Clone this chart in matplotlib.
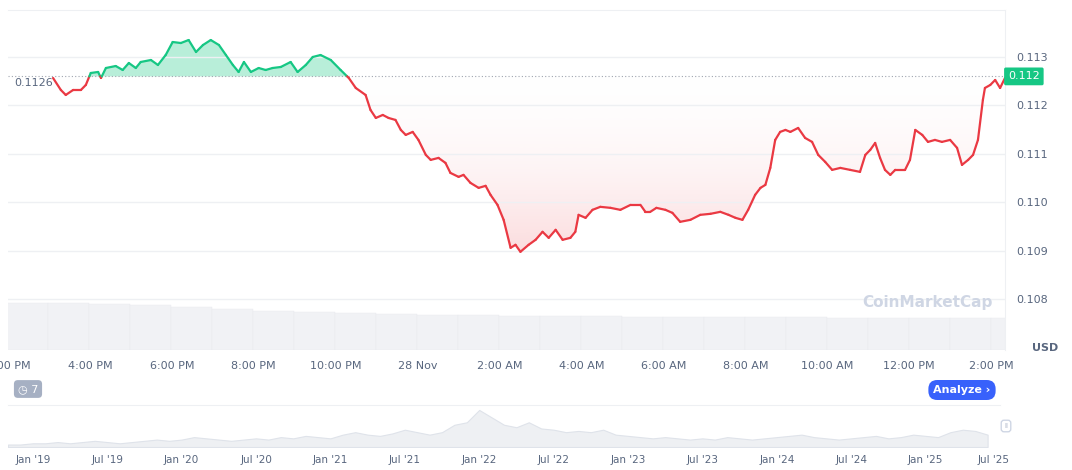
import matplotlib
matplotlib.use("Agg")
import matplotlib.pyplot as plt
import numpy as np
from matplotlib.patches import Polygon

hours = [1.10,1.29,1.41,1.59,1.78,1.90,2.02,2.20,2.27,2.39,2.63,2.80,2.95,3.12,3.24,3.49,3.66,3.85,4.02,4.22,4.41,4.59,4.76,4.95,5.15,5.32,5.49,5.63,5.76,5.93,6.12,6.29,6.46,6.66,6.90,7.07,7.27,7.44,7.63,7.88,8.12,8.32,8.49,8.73,8.85,8.98,9.15,9.29,9.46,9.59,9.71,9.88,10.02,10.20,10.32,10.51,10.68,10.80,11.00,11.12,11.29,11.49,11.66,11.78,11.95,12.10,12.27,12.39,12.51,12.71,12.88,13.05,13.20,13.37,13.54,13.73,13.85,13.93,14.10,14.27,14.46,14.71,14.95,15.20,15.44,15.56,15.68,15.83,16.05,16.22,16.41,16.66,16.90,17.15,17.39,17.59,17.76,17.93,18.07,18.24,18.37,18.49,18.61,18.73,18.85,18.98,19.10,19.29,19.46,19.63,19.78,19.95,20.12,20.32,20.56,20.80,20.93,21.05,21.17,21.29,21.41,21.54,21.66,21.90,22.02,22.15,22.32,22.46,22.63,22.80,23.00,23.17,23.29,23.44,23.56,23.68,23.80,23.85,23.98,24.10,24.22,24.34]
prices = [0.112567,0.112320,0.112217,0.112320,0.112320,0.112423,0.112670,0.112691,0.112567,0.112773,0.112814,0.112732,0.112876,0.112773,0.112897,0.112938,0.112835,0.113041,0.113309,0.113288,0.113350,0.113103,0.113247,0.113350,0.113247,0.113041,0.112835,0.112691,0.112897,0.112691,0.112773,0.112732,0.112773,0.112794,0.112897,0.112691,0.112835,0.113000,0.113041,0.112938,0.112732,0.112567,0.112361,0.112217,0.111908,0.111743,0.111805,0.111743,0.111702,0.111496,0.111393,0.111455,0.111290,0.110981,0.110878,0.110919,0.110816,0.110610,0.110528,0.110569,0.110404,0.110301,0.110343,0.110157,0.109951,0.109642,0.109065,0.109127,0.108983,0.109127,0.109230,0.109395,0.109271,0.109436,0.109230,0.109271,0.109395,0.109745,0.109683,0.109848,0.109910,0.109889,0.109848,0.109951,0.109951,0.109807,0.109807,0.109889,0.109848,0.109786,0.109601,0.109642,0.109745,0.109766,0.109807,0.109745,0.109683,0.109642,0.109848,0.110157,0.110301,0.110363,0.110713,0.111290,0.111455,0.111496,0.111455,0.111537,0.111331,0.111249,0.110981,0.110837,0.110672,0.110713,0.110672,0.110631,0.110981,0.111084,0.111228,0.110919,0.110672,0.110569,0.110672,0.110672,0.110878,0.111496,0.111393,0.111249,0.111290,0.111249,0.111290,0.111125,0.110775,0.110878,0.110981,0.111290,0.112114,0.112361,0.112423,0.112526,0.112361,0.112567]
baseline = 0.1126
vol_hours = [0.0,1,2,3,4,5,6,7,8,9,10,11,12,13,14,15,16,17,18,19,20,21,22,23,24]
vol_vals = [47,47,46,45,43,41,39,38,37,36,35,35,34,34,34,33,33,33,33,33,32,32,32,32,32]
yticks = [0.108,0.109,0.110,0.111,0.112,0.113]
xtick_pos = [0,2,4,6,8,10,12,14,16,18,20,22,24]
xtick_lbl = ["2:00 PM","4:00 PM","6:00 PM","8:00 PM","10:00 PM","28 Nov","2:00 AM","4:00 AM","6:00 AM","8:00 AM","10:00 AM","12:00 PM","2:00 PM"]
nav_x = list(range(80))
nav_v = [2,2,3,3,4,3,4,5,4,3,4,5,6,5,6,8,7,6,5,6,7,6,8,7,9,8,7,10,12,10,9,11,14,12,10,12,18,20,30,24,18,16,20,15,14,12,13,12,14,10,9,8,7,8,7,6,7,6,8,7,6,7,8,9,10,8,7,6,7,8,9,7,8,10,9,8,12,14,13,10]
nav_lbl = ["Jan '19","Jul '19","Jan '20","Jul '20","Jan '21","Jul '21","Jan '22","Jul '22","Jan '23","Jul '23","Jan '24","Jul '24","Jan '25","Jul '25"]
nav_lbl_pos = [2,8,14,20,26,32,38,44,50,56,62,68,74,79.5]

W, H = 1072, 470
fig = plt.figure(figsize=(W/100, H/100), dpi=100)
def rect(x0, y0, x1, y1):
    return [x0/W, 1-y1/H, (x1-x0)/W, (y1-y0)/H]

ymin, ymax = 0.106958, 0.113969
xmin, xmax = 0.024, 24.34

axv = fig.add_axes(rect(8, 10, 1005, 350))
axv.bar(vol_hours, vol_vals, width=1.0, color="#f1f2f5", align="edge", ec="#e8eaee", lw=0.3)
axv.set_xlim(xmin, xmax); axv.set_ylim(0, 340); axv.axis("off")

ax = fig.add_axes(rect(8, 10, 1005, 350))
ax.patch.set_alpha(0)
h = np.array(hours); p = np.array(prices)
ax.fill_between(h, p, baseline, where=p >= baseline, interpolate=True, color="#16c784", alpha=0.3, lw=0)
grad = np.linspace(0.42, 0.03, 256).reshape(-1, 1)
cmap = matplotlib.colors.LinearSegmentedColormap.from_list("r", [(1,1,1,0),(0.92,0.22,0.26,1)])
im = ax.imshow(grad, extent=[xmin, xmax, min(prices), baseline], origin="lower", aspect="auto", cmap=cmap, vmin=0, vmax=1, zorder=1)
pc = np.minimum(p, baseline)
poly = Polygon(np.column_stack([np.r_[h, h[::-1]], np.r_[pc, np.full_like(pc, baseline)]]), closed=True, transform=ax.transData, fc="none", ec="none")
ax.add_patch(poly); im.set_clip_path(poly)
for i in range(len(h)-1):
    x0, x1, y0, y1 = h[i], h[i+1], p[i], p[i+1]
    if (y0 - baseline) * (y1 - baseline) < 0:
        xm = x0 + (baseline - y0) / (y1 - y0) * (x1 - x0)
        ax.plot([x0, xm], [y0, baseline], color="#16c784" if y0 > baseline else "#ea3943", lw=1.6, zorder=3, solid_capstyle="round")
        ax.plot([xm, x1], [baseline, y1], color="#16c784" if y1 > baseline else "#ea3943", lw=1.6, zorder=3, solid_capstyle="round")
    else:
        c = "#16c784" if (y0 + y1) / 2 >= baseline else "#ea3943"
        ax.plot([x0, x1], [y0, y1], color=c, lw=1.6, zorder=3, solid_capstyle="round")
ax.axhline(baseline, color="#a0a6b0", lw=0.8, ls=(0, (1, 2)), zorder=2)
ax.set_xlim(xmin, xmax); ax.set_ylim(ymin, ymax)
ax.set_yticks(yticks)
ax.grid(axis="y", color="#eef0f3", lw=1)
ax.yaxis.tick_right()
ax.set_yticklabels([f"{t:.3f}" for t in yticks], fontsize=8, color="#58667e")
ax.set_xticks(xtick_pos)
ax.set_xticklabels(xtick_lbl, fontsize=8, color="#58667e")
ax.tick_params(length=0, pad=8)
for s in ["left", "bottom"]:
    ax.spines[s].set_visible(False)
ax.spines["top"].set_color("#eef0f3"); ax.spines["right"].set_color("#eef0f3")
ax.text(0.15, 0.11257, "0.1126", fontsize=8, color="#58667e", va="top", ha="left")
ax.text(1.003, 0.1126, "0.112", transform=ax.get_yaxis_transform(), fontsize=8, color="white", va="center", ha="left",
        bbox=dict(boxstyle="round,pad=0.35,rounding_size=0.15", fc="#16c784", ec="none"))
ax.text(0.988, 0.14, "CoinMarketCap", transform=ax.transAxes, fontsize=11, color="#cfd6e4", ha="right", va="center", fontweight="bold")
fig.text(1032/W, 1-348/H, "USD", fontsize=8, color="#58667e", fontweight="bold", ha="left", va="center")

fig.text(28/W, 1-389/H, "◷ 7", fontsize=8, color="white", ha="center", va="center",
         bbox=dict(boxstyle="round,pad=0.35", fc="#a6b0c3", ec="none"))
fig.text(962/W, 1-390/H, "Analyze ›", fontsize=8, color="white", ha="center", va="center", fontweight="bold",
         bbox=dict(boxstyle="round,pad=0.45,rounding_size=0.8", fc="#3861fb", ec="none"))

axn = fig.add_axes(rect(8, 405, 1000, 447))
axn.fill_between(nav_x, nav_v, 0, color="#eef0f3", lw=0.8, ec="#dfe3ea")
axn.set_xlim(0, 80); axn.set_ylim(0, 34)
axn.set_xticks(nav_lbl_pos); axn.set_xticklabels(nav_lbl, fontsize=7.5, color="#58667e")
axn.tick_params(length=0, pad=6); axn.set_yticks([])
for s in axn.spines.values(): s.set_visible(False)
axn.spines["top"].set_visible(True); axn.spines["top"].set_color("#eef0f3")
fig.text(1006/W, 1-426/H, "II", fontsize=5, color="#a6b0c3", ha="center", va="center",
         bbox=dict(boxstyle="round,pad=0.4", fc="white", ec="#cfd6e4"))
fig.savefig("out.png", dpi=100)
